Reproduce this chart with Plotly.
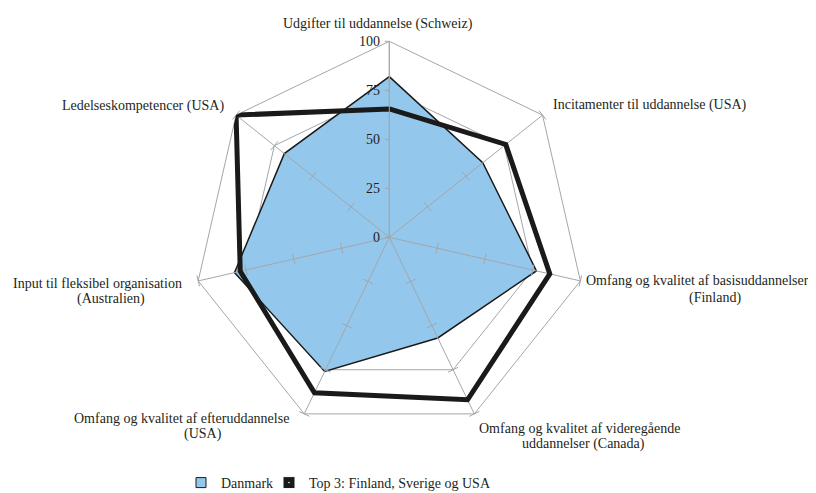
import plotly.graph_objects as go

# ---- data ----
categories = [
    "Udgifter til uddannelse (Schweiz)",
    "Incitamenter til uddannelse (USA)",
    "Omfang og kvalitet af basisuddannelser<br>(Finland)",
    "Omfang og kvalitet af videregående<br>uddannelser (Canada)",
    "Omfang og kvalitet af efteruddannelse<br>(USA)",
    "Input til fleksibel organisation<br>(Australien)",
    "Ledelseskompetencer (USA)",
]
danmark = [82, 61, 77, 57, 76, 81, 68.5]
top3 = [65.5, 76, 84, 92, 88, 78, 100]
radial_ticks = [0, 25, 50, 75, 100]
series_names = ["Danmark", "Top 3: Finland, Sverige og USA"]

# ---- style ----
OFF = 8                      # page body margin of the html page
W, H = 816 - OFF, 493 - OFF  # figure size so the page fits the window
CX, CY, R = 389.3 - OFF, 237.3 - OFF, 196
FONT = "Liberation Serif"
TXT = "#231F20"
GRID = "#A3A6AA"
BLUE = "#93C8EC"
DARK = "#1A1A1A"

# label line positions (pixel centres in the window) per category line
label_pos = [
    [(378, 24)],
    [(650, 105)],
    [(697, 280), (715, 298)],
    [(579, 428), (583, 444)],
    [(181, 418), (203, 434)],
    [(97, 283), (111, 299)],
    [(143, 106)],
]

fig = go.Figure()

# Danmark area
fig.add_trace(go.Scatterpolar(
    r=danmark + [danmark[0]], theta=categories + [categories[0]],
    mode="lines", fill="toself", fillcolor=BLUE,
    line=dict(color=DARK, width=1.5), showlegend=False, hoverinfo="skip"))

# spokes drawn above the fill
sr, st = [], []
for c in categories:
    sr += [0, radial_ticks[-1], None]
    st += [c, c, None]
fig.add_trace(go.Scatterpolar(r=sr, theta=st, mode="lines",
                              line=dict(color=GRID, width=1), showlegend=False,
                              hoverinfo="skip", connectgaps=False))

# tick crosses on the spokes
n = len(categories)
tr, tt, ta = [], [], []
for k, c in enumerate(categories):
    if k == 0:
        continue
    for v in radial_ticks[1:]:
        tr.append(v)
        tt.append(c)
        ta.append(k * 360.0 / n)
fig.add_trace(go.Scatterpolar(r=tr, theta=tt, mode="markers",
                              marker=dict(symbol="line-ew", size=8, angle=ta,
                                          line=dict(color=GRID, width=1)),
                              showlegend=False, hoverinfo="skip"))

# Top 3 line
fig.add_trace(go.Scatterpolar(
    r=top3 + [top3[0]], theta=categories + [categories[0]],
    mode="lines", line=dict(color=DARK, width=5),
    showlegend=False, hoverinfo="skip"))

# legend entries
fig.add_trace(go.Scatterpolar(r=[None], theta=[categories[0]], mode="markers",
                              name=series_names[0], legendwidth=43,
                              marker=dict(symbol="square", size=10, color=BLUE,
                                          line=dict(color=DARK, width=1))))
fig.add_trace(go.Scatterpolar(r=[None], theta=[categories[0]], mode="markers",
                              name=series_names[1], legendwidth=200,
                              marker=dict(symbol="square-dot", size=12, color=DARK,
                                          line=dict(color="white", width=1))))

annotations = []
for c, poss in zip(categories, label_pos):
    lines = c.split("<br>")
    for line, (x, y) in zip(lines, poss):
        annotations.append(dict(text=line, x=(x - OFF) / W, y=1 - (y - OFF) / H,
                                xref="paper", yref="paper",
                                xanchor="center", yanchor="middle", showarrow=False,
                                font=dict(family=FONT, size=14, color=TXT)))

fig.update_layout(
    width=W, height=H, autosize=False,
    margin=dict(l=0, r=0, t=0, b=0, autoexpand=False),
    paper_bgcolor="white", plot_bgcolor="white",
    font=dict(family=FONT, size=14, color=TXT),
    polar=dict(
        domain=dict(x=[(CX - R) / W, (CX + R) / W], y=[1 - (CY + R) / H, 1 - (CY - R) / H]),
        bgcolor="rgba(0,0,0,0)",
        gridshape="linear",
        radialaxis=dict(range=[0, 100], tickvals=radial_ticks, angle=90, tickangle=90,
                        side="counterclockwise",
                        showline=True, linecolor=GRID, linewidth=1,
                        ticks="outside", ticklen=4, tickcolor=GRID,
                        showgrid=True, gridcolor=GRID, gridwidth=1,
                        tickfont=dict(family=FONT, size=14, color=TXT),
                        layer="above traces"),
        angularaxis=dict(rotation=90, direction="clockwise", showticklabels=False,
                         ticks="", showgrid=False, showline=True, linecolor=GRID,
                         linewidth=1, layer="below traces"),
    ),
    annotations=annotations,
    legend=dict(orientation="h", x=(181 - OFF) / W, y=1 - (483 - OFF) / H,
                xanchor="left", yanchor="middle",
                font=dict(family=FONT, size=14, color=TXT), bgcolor="rgba(0,0,0,0)",
                itemwidth=30),
)

fig.write_html("out.html")
